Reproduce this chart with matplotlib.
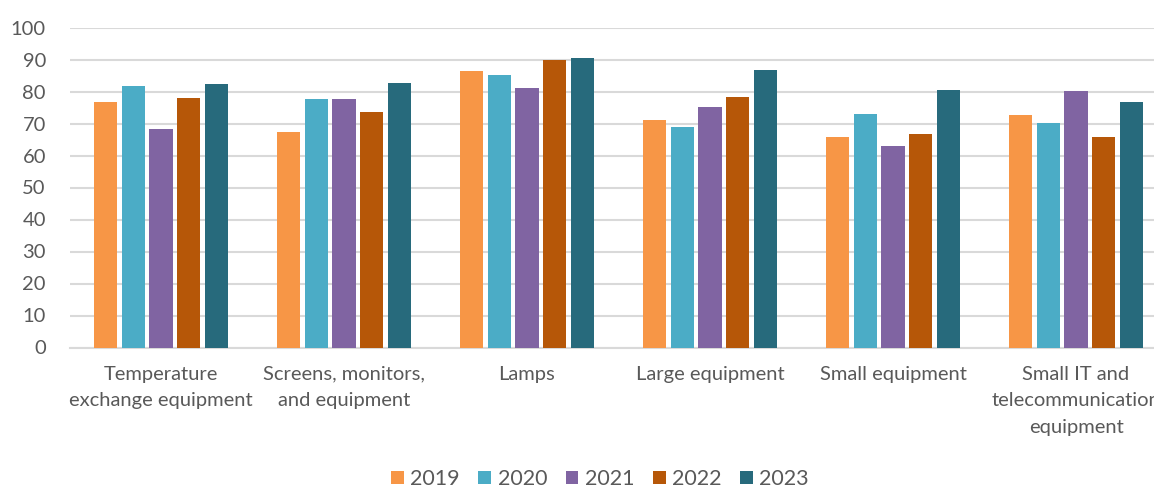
import matplotlib.pyplot as plt
import numpy as np

plt.rcParams['font.family'] = ['Lato', 'DejaVu Sans']

# Collection rates per WEEE category and year
categories = ['Temperature\nexchange equipment', 'Screens, monitors,\nand equipment',
              'Lamps', 'Large equipment', 'Small equipment',
              'Small IT and\ntelecommunication\nequipment']
years = ['2019', '2020', '2021', '2022', '2023']
rate_2019 = [76.6, 67.5, 86.4, 71.0, 65.9, 72.8]
rate_2020 = [81.7, 77.7, 85.3, 68.8, 72.9, 70.1]
rate_2021 = [68.2, 77.6, 81.0, 75.1, 63.0, 80.3]
rate_2022 = [77.9, 73.6, 89.9, 78.2, 66.6, 65.7]
rate_2023 = [82.2, 82.7, 90.6, 86.7, 80.4, 76.7]
series = [rate_2019, rate_2020, rate_2021, rate_2022, rate_2023]
colors = ['#F79646', '#4BACC6', '#8064A2', '#B65708', '#276A7C']

text_color = '#595959'
grid_color = '#D9D9D9'

fig = plt.figure(figsize=(11.54, 4.88), dpi=100)
fig.patch.set_facecolor('white')
ax = fig.add_axes([69.5 / 1154, 1 - 347.5 / 488, 1098 / 1154, 320 / 488])

x = np.arange(len(categories))
step = 0.151
bar_w = 0.127
for i, (vals, col, yr) in enumerate(zip(series, colors, years)):
    ax.bar(x + (i - 2) * step, vals, width=bar_w, color=col, label=yr, zorder=3)

ax.set_xlim(-0.5, len(categories) - 0.5)
ax.set_ylim(0, 100)
ax.set_yticks(np.arange(0, 101, 10))
ax.set_xticks(x)
ax.set_xticklabels(categories, linespacing=1.7)

ax.yaxis.grid(True, color=grid_color, linewidth=1.5, zorder=0)
ax.set_axisbelow(True)
for side in ['top', 'right', 'left']:
    ax.spines[side].set_visible(False)
ax.spines['bottom'].set_color(grid_color)
ax.spines['bottom'].set_linewidth(1.5)

ax.tick_params(axis='x', length=0, pad=13, labelsize=14.5, labelcolor=text_color)
ax.tick_params(axis='y', length=0, pad=17, labelsize=14.5, labelcolor=text_color)

fig.legend(loc='center', bbox_to_anchor=(600 / 1154, 1 - 479 / 488), ncol=5,
           frameon=False, fontsize=15.5, labelcolor=text_color,
           handlelength=0.6, handleheight=0.6, handletextpad=0.3,
           columnspacing=0.85)

plt.savefig('out.png', dpi=100, facecolor='white')
